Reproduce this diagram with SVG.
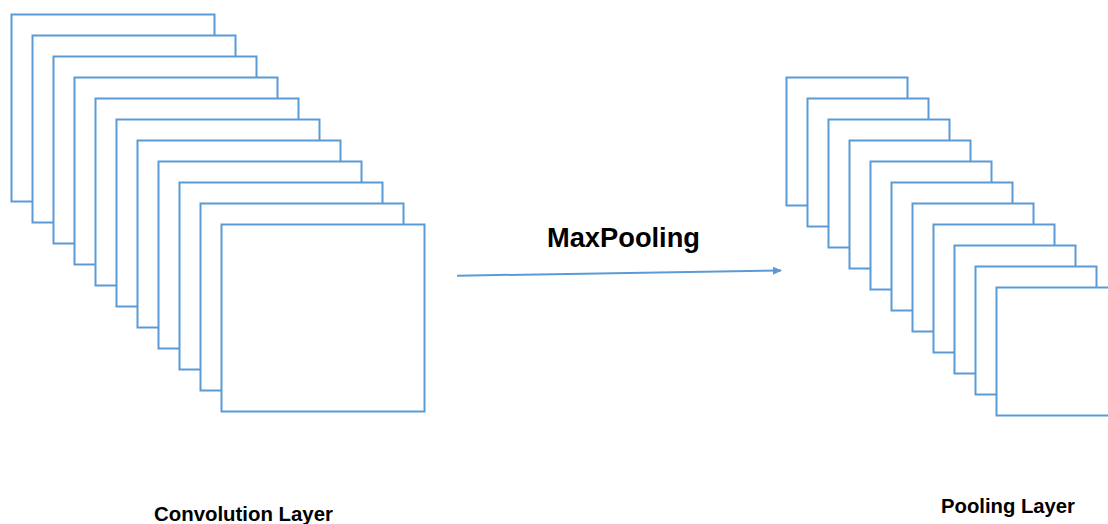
<svg xmlns="http://www.w3.org/2000/svg" width="1108" height="524" viewBox="0 0 1108 524">
<style>
.sq{fill:#ffffff;stroke:#5b9bd5;stroke-width:2}
.lbl{font-family:"Liberation Sans",Arial,sans-serif;font-weight:bold;fill:#000}
.con{stroke:#5b9bd5;stroke-width:2;fill:none}
</style>
<defs>
<marker id="ah" markerWidth="10" markerHeight="10" refX="8" refY="4" orient="auto" markerUnits="userSpaceOnUse">
<path d="M0,0 L9,4 L0,8 Z" fill="#5b9bd5"/>
</marker>
</defs>
<rect width="1108" height="524" fill="#ffffff"/>
<g id="convolution-layer">
<rect class="sq" x="11.5" y="14.5" width="203" height="187"/>
<rect class="sq" x="32.5" y="35.5" width="203" height="187"/>
<rect class="sq" x="53.5" y="56.5" width="203" height="187"/>
<rect class="sq" x="74.5" y="77.5" width="203" height="187"/>
<rect class="sq" x="95.5" y="98.5" width="203" height="187"/>
<rect class="sq" x="116.5" y="119.5" width="203" height="187"/>
<rect class="sq" x="137.5" y="140.5" width="203" height="187"/>
<rect class="sq" x="158.5" y="161.5" width="203" height="187"/>
<rect class="sq" x="179.5" y="182.5" width="203" height="187"/>
<rect class="sq" x="200.5" y="203.5" width="203" height="187"/>
<rect class="sq" x="221.5" y="224.5" width="203" height="187"/>
<text class="lbl" x="154" y="521" font-size="20" textLength="179" lengthAdjust="spacingAndGlyphs">Convolution Layer</text>
</g>
<g id="pooling-layer">
<rect class="sq" x="786.5" y="77.5" width="121" height="128"/>
<rect class="sq" x="807.5" y="98.5" width="121" height="128"/>
<rect class="sq" x="828.5" y="119.5" width="121" height="128"/>
<rect class="sq" x="849.5" y="140.5" width="121" height="128"/>
<rect class="sq" x="870.5" y="161.5" width="121" height="128"/>
<rect class="sq" x="891.5" y="182.5" width="121" height="128"/>
<rect class="sq" x="912.5" y="203.5" width="121" height="128"/>
<rect class="sq" x="933.5" y="224.5" width="121" height="128"/>
<rect class="sq" x="954.5" y="245.5" width="121" height="128"/>
<rect class="sq" x="975.5" y="266.5" width="121" height="128"/>
<rect class="sq" x="996.5" y="287.5" width="121" height="128"/>
<text class="lbl" x="941" y="513" font-size="20" textLength="134" lengthAdjust="spacingAndGlyphs">Pooling Layer</text>
</g>
<g id="connectors">
<line class="con" x1="457" y1="275.7" x2="781" y2="270.5" marker-end="url(#ah)"/>
<text class="lbl" x="547" y="247" font-size="27" textLength="153" lengthAdjust="spacingAndGlyphs">MaxPooling</text>
</g>
</svg>
